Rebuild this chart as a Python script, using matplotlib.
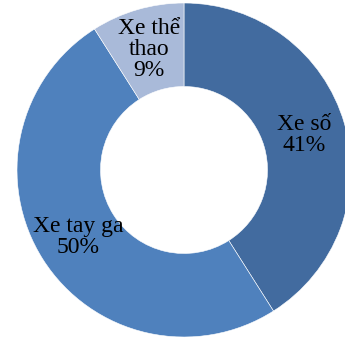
import matplotlib
matplotlib.use("Agg")
import matplotlib.pyplot as plt

# Cơ cấu loại xe
loai_xe = ["Xe số", "Xe tay ga", "Xe thể\nthao"]
ty_le = [41, 50, 9]
mau = ["#426B9F", "#4F81BD", "#A9BAD9"]

W, H = 345, 339
fig = plt.figure(figsize=(W / 100, H / 100), dpi=100)

# tâm và bán kính vòng tròn (pixel)
cx, cy, R = 184, 170, 167
ax = fig.add_axes([(cx - R) / W, (H - cy - R) / H, 2 * R / W, 2 * R / H])

wedges, texts, autotexts = ax.pie(
    ty_le, colors=mau, startangle=90, counterclock=False,
    radius=1, autopct="%d%%", pctdistance=0.75,
    wedgeprops=dict(width=0.5, edgecolor="white", linewidth=0.4),
)
for t, ten, v in zip(autotexts, loai_xe, ty_le):
    t.set_text(f"{ten}\n{v}%")
    t.set_fontfamily("Liberation Serif")
    t.set_fontsize(17)
    t.set_linespacing(1.0)
    t.set_color("black")

ax.set_xlim(-1, 1)
ax.set_ylim(-1, 1)
ax.set_aspect("equal")
ax.axis("off")

fig.savefig("out.png", dpi=100)
